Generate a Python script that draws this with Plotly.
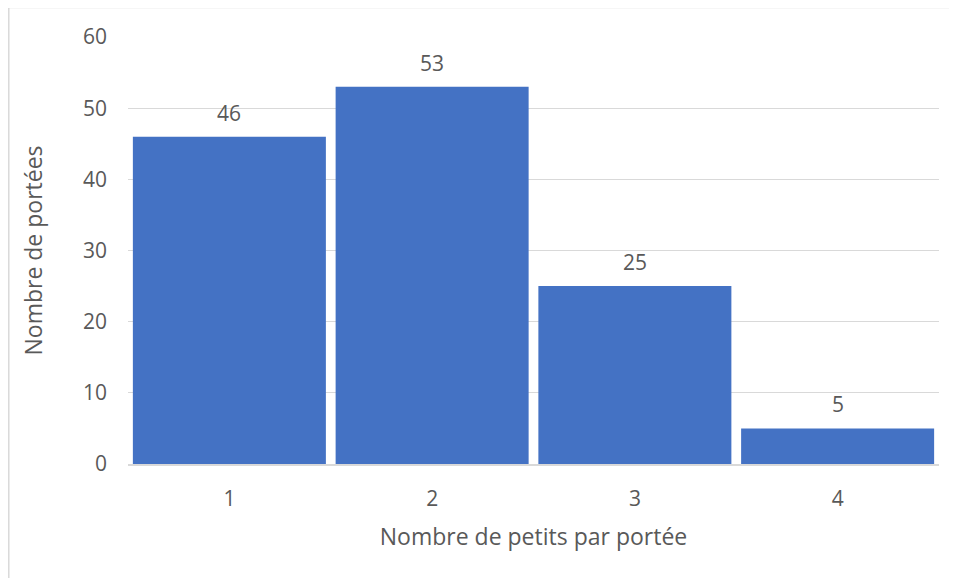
import plotly.graph_objects as go

# Données du graphique
categories = ["1", "2", "3", "4"]
nb_portees = [46, 53, 25, 5]

couleur_barre = "#4472C4"
couleur_texte = "#595959"
couleur_grille = "#D9D9D9"
police = "Open Sans"

fig = go.Figure()
fig.add_trace(go.Bar(
    x=categories,
    y=nb_portees,
    marker=dict(color=couleur_barre, line=dict(width=0)),
    hoverinfo="x+y",
))

# Étiquettes de valeurs au-dessus des barres (x = indice de catégorie)
for i, val in enumerate(nb_portees):
    fig.add_annotation(
        x=i, y=val, text=str(val), showarrow=False,
        yshift=24, font=dict(family=police, size=21, color=couleur_texte),
    )

# la page ajoute une marge de 8 px autour du graphique
fig.update_layout(
    width=949, height=570,
    margin=dict(l=120, r=18, t=29, b=114),
    paper_bgcolor="white", plot_bgcolor="white",
    bargap=0.048,
    showlegend=False,
    font=dict(family=police, size=21, color=couleur_texte),
    shapes=[dict(
        type="rect", xref="paper", yref="paper",
        x0=-0.147, x1=1.2, y0=-0.5, y1=1.069,
        line=dict(color=couleur_grille, width=1.5), layer="below",
    )],
)

fig.update_xaxes(
    type="category", automargin=False,
    showgrid=False, showline=True, linecolor=couleur_grille, linewidth=1.5,
    ticks="", ticklabelstandoff=15,
    tickfont=dict(size=21, color=couleur_texte),
    title=dict(text="Nombre de petits par portée", standoff=18,
               font=dict(size=23, color=couleur_texte)),
)
fig.update_yaxes(
    automargin=False,
    range=[0, 60], dtick=10, showgrid=True, gridcolor=couleur_grille, gridwidth=1.2,
    zeroline=False, showline=False, ticks="", ticklabelstandoff=20,
    tickfont=dict(size=21, color=couleur_texte),
    title=dict(text="Nombre de portées", standoff=33,
               font=dict(size=23, color=couleur_texte)),
)

fig.write_html("out.html")
